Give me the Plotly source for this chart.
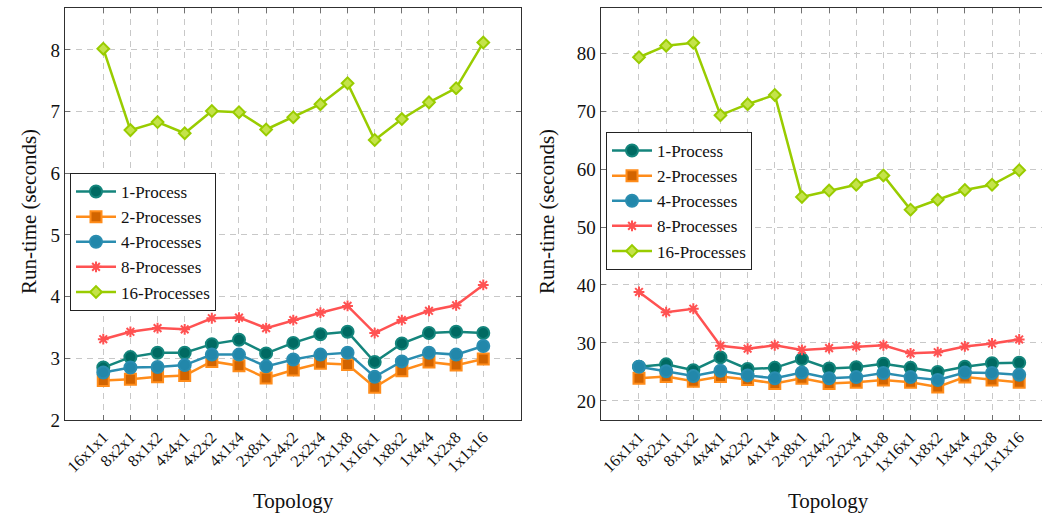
import plotly.graph_objects as go

# Process-grid topologies on the x axis
topologies = ["16x1x1", "8x2x1", "8x1x2", "4x4x1", "4x2x2", "4x1x4", "2x8x1", "2x4x2",
              "2x2x4", "2x1x8", "1x16x1", "1x8x2", "1x4x4", "1x2x8", "1x1x16"]

# Left panel: run-time in seconds
left_1p = [2.85, 3.02, 3.09, 3.09, 3.23, 3.30, 3.08, 3.25, 3.39, 3.43, 2.94, 3.24, 3.41, 3.43, 3.41]
left_2p = [2.64, 2.66, 2.70, 2.72, 2.95, 2.88, 2.68, 2.81, 2.92, 2.90, 2.53, 2.80, 2.94, 2.89, 2.99]
left_4p = [2.77, 2.85, 2.86, 2.89, 3.06, 3.06, 2.87, 2.98, 3.06, 3.09, 2.70, 2.95, 3.09, 3.06, 3.20]
left_8p = [3.31, 3.43, 3.49, 3.47, 3.65, 3.66, 3.49, 3.62, 3.74, 3.85, 3.41, 3.62, 3.77, 3.86, 4.19]
left_16p = [8.02, 6.70, 6.83, 6.65, 7.01, 6.99, 6.71, 6.91, 7.12, 7.46, 6.54, 6.88, 7.15, 7.38, 8.12]

# Right panel: run-time in seconds
right_1p = [25.9, 26.3, 25.3, 27.5, 25.5, 25.7, 27.2, 25.6, 25.8, 26.4, 25.7, 25.0, 25.9, 26.5, 26.6]
right_2p = [23.9, 24.2, 23.4, 24.2, 23.7, 23.0, 23.9, 23.0, 23.2, 23.6, 23.2, 22.4, 24.1, 23.6, 23.2]
right_4p = [25.9, 25.1, 24.3, 25.2, 24.4, 23.9, 24.9, 23.9, 24.1, 24.8, 24.1, 23.6, 24.9, 24.8, 24.5]
right_8p = [38.8, 35.3, 35.9, 29.5, 29.0, 29.6, 28.8, 29.1, 29.4, 29.6, 28.2, 28.4, 29.4, 29.9, 30.6]
right_16p = [79.3, 81.3, 81.8, 69.3, 71.2, 72.8, 55.2, 56.3, 57.3, 58.9, 53.0, 54.7, 56.4, 57.3, 59.8]

series_names = ["1-Process", "2-Processes", "4-Processes", "8-Processes", "16-Processes"]

styles = [
    dict(line="#14857c", fill="#006a62", symbol="circle", size=12),
    dict(line="#ff8c1a", fill="#d26400", symbol="square", size=11),
    dict(line="#2a8db0", fill="#2287aa", symbol="circle", size=12),
    dict(line="#ff5252", fill="#ff5252", symbol="asterisk-open", size=9),
    dict(line="#99cc00", fill="#c4e34a", symbol="diamond", size=9),
]

SERIF = "Liberation Serif"
W, H = 1042, 516

fig = go.Figure()

left_data = [left_1p, left_2p, left_4p, left_8p, left_16p]
right_data = [right_1p, right_2p, right_4p, right_8p, right_16p]

idx = list(range(len(topologies)))

for data, xa, ya, lg in [(left_data, "x", "y", "legend"),
                         (right_data, "x2", "y2", "legend2")]:
    for name, vals, st in zip(series_names, data, styles):
        fig.add_trace(go.Scatter(
            x=idx, y=vals, name=name, mode="lines+markers",
            xaxis=xa, yaxis=ya, legend=lg,
            line=dict(color=st["line"], width=2.5),
            marker=dict(symbol=st["symbol"], size=st["size"], color=st["fill"],
                        line=dict(color=st["line"], width=2)),
        ))

grid = dict(showgrid=True, gridcolor="#c8c8c8", gridwidth=1, griddash="6px,5px",
            zeroline=False, ticks="inside", ticklen=5, tickcolor="#707070",
            showline=True, linecolor="#303030", linewidth=1.2,
            tickfont=dict(family=SERIF, size=19, color="#111"))

xcommon = dict(grid, tickmode="array", tickvals=idx, ticktext=topologies, tickangle=-45,
               tickfont=dict(family=SERIF, size=16.5, color="#111"))

y0, y1 = 1 - 420 / H, 1 - 8 / H

legend_style = dict(xanchor="left", yanchor="top", bgcolor="white", bordercolor="#222",
                    borderwidth=1, font=dict(family=SERIF, size=17, color="#111"),
                    tracegroupgap=0, itemwidth=40)

title_font = dict(family=SERIF, size=21, color="#111")

fig.update_layout(
    width=W, height=H,
    margin=dict(l=0, r=0, t=0, b=0),
    paper_bgcolor="white", plot_bgcolor="white",
    showlegend=True,
    xaxis=dict(xcommon, domain=[65 / W, 521 / W], range=[-1.41, 15.39], mirror="allticks",
               anchor="y", automargin=False),
    yaxis=dict(grid, domain=[y0, y1], range=[2, 8.68], dtick=1, tick0=2, mirror="allticks",
               anchor="x", automargin=False),
    xaxis2=dict(xcommon, domain=[600.7 / W, 1.0], range=[-1.41, 14.84], mirror="allticks",
                anchor="y2", automargin=False),
    yaxis2=dict(grid, domain=[y0, y1], range=[16.7, 87.8], dtick=10, tick0=20, mirror=False,
                anchor="x2", automargin=False),
    legend=dict(legend_style, x=70 / W, y=1 - 173 / H),
    legend2=dict(legend_style, x=606 / W, y=1 - 132 / H),
    annotations=[
        dict(text="Topology", x=293 / W, y=1 - 501 / H, xref="paper", yref="paper",
             xanchor="center", yanchor="middle", showarrow=False, font=title_font),
        dict(text="Topology", x=828 / W, y=1 - 501 / H, xref="paper", yref="paper",
             xanchor="center", yanchor="middle", showarrow=False, font=title_font),
        dict(text="Run-time (seconds)", x=29 / W, y=1 - 212 / H, xref="paper", yref="paper",
             xanchor="center", yanchor="middle", showarrow=False, textangle=-90,
             font=title_font),
        dict(text="Run-time (seconds)", x=547 / W, y=1 - 212 / H, xref="paper", yref="paper",
             xanchor="center", yanchor="middle", showarrow=False, textangle=-90,
             font=title_font),
    ],
)

fig.write_html("out.html")
